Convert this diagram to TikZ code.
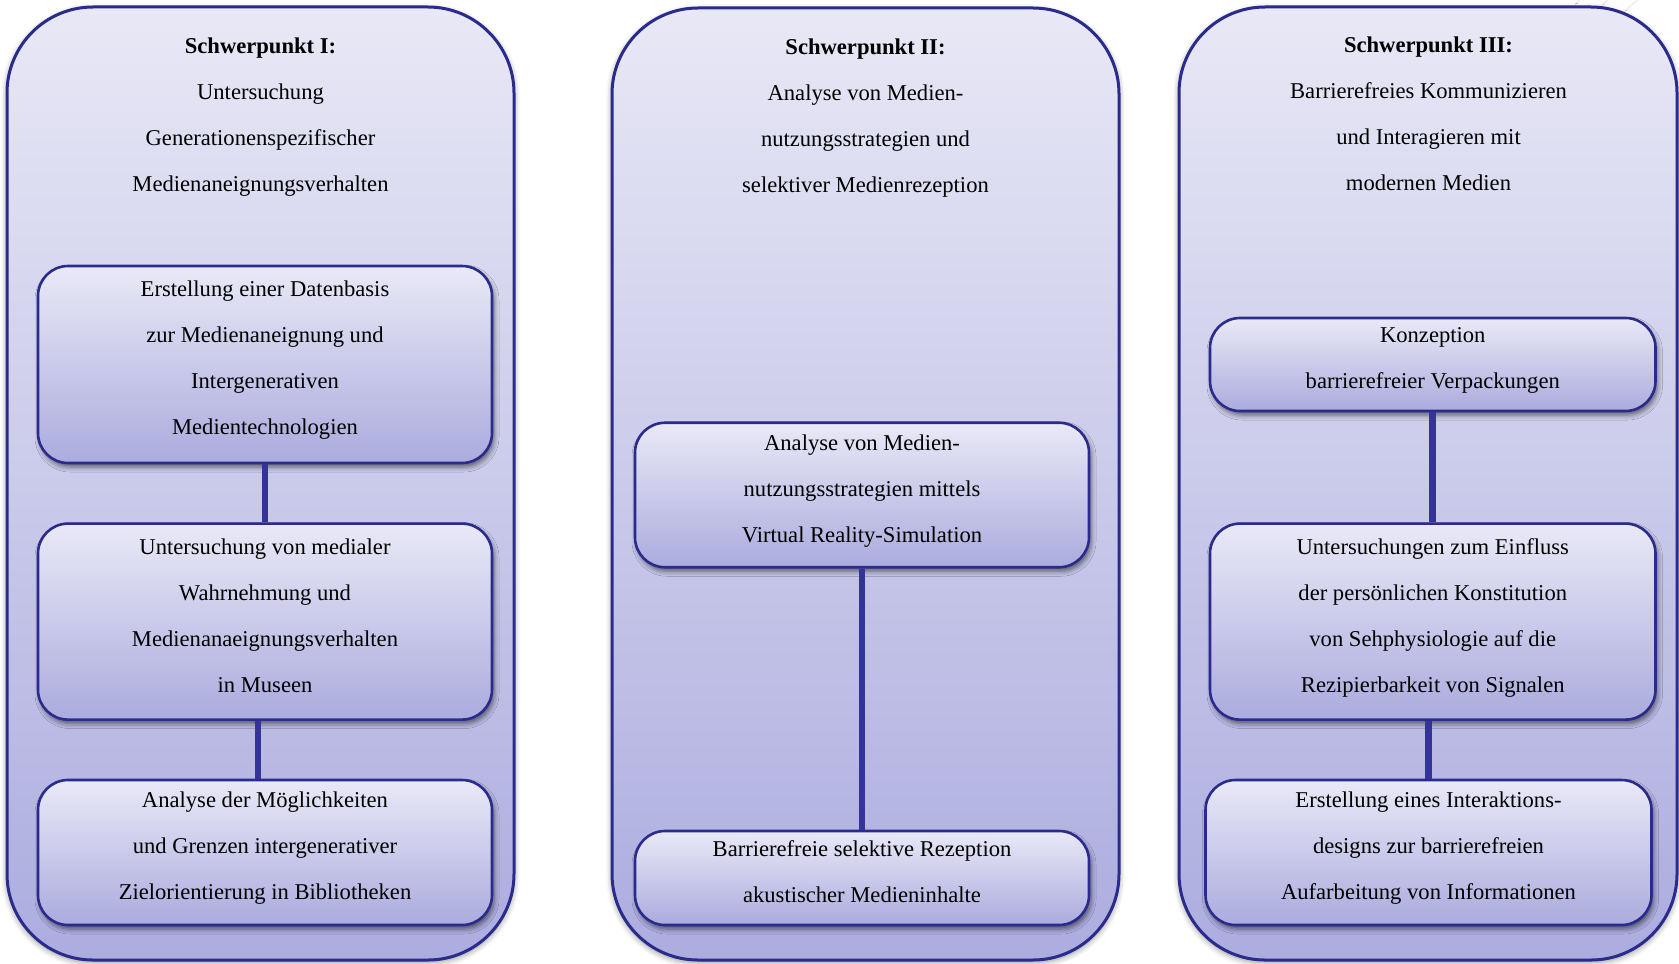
\documentclass[tikz,border=0pt]{standalone}
\usepackage{fontspec}
\setmainfont{Liberation Serif}
\usetikzlibrary{shadows.blur}
\definecolor{panelTop}{HTML}{E8E8F6}
\definecolor{panelBot}{HTML}{ACACDF}
\definecolor{boxTop}{HTML}{E9E9F7}
\definecolor{boxBot}{HTML}{ABABDE}
\definecolor{navy}{HTML}{2B2B8E}
\definecolor{connBlue}{HTML}{33339A}
\definecolor{swirlGray}{HTML}{EEEEF3}
\tikzset{
  panel/.style={rectangle, draw=navy, line width=1.5pt, rounded corners=43pt,
    top color=panelTop, bottom color=panelBot, inner sep=0pt,
    blur shadow={shadow xshift=0pt, shadow yshift=-1.2pt, shadow blur radius=3pt, shadow opacity=45}},
  stepbox/.style={rectangle, draw=navy, line width=1.3pt, rounded corners=15pt,
    top color=boxTop, bottom color=boxBot, inner sep=0pt,
    blur shadow={shadow xshift=1pt, shadow yshift=-2pt, shadow blur radius=2.5pt, shadow opacity=55}},
  txt/.style={align=center, inner sep=0pt, font=\fontsize{11.3}{23}\selectfont},
  conn/.style={draw=connBlue, line width=3.3pt},
  swirl/.style={draw=swirlGray, line width=0.8pt}
}
\begin{document}
\begin{tikzpicture}[x=0.5pt,y=-0.5pt]
\useasboundingbox (0,0) rectangle (1679,963);
% faint background swirls
\begin{scope}
\clip (1450,0) rectangle (1679,80);
\draw[swirl] (1830,230) circle (300);
\draw[swirl] (1830,230) circle (320);
\draw[swirl] (1830,230) circle (340);
\end{scope}
% panels
\node[panel, minimum width=253.5pt, minimum height=476.5pt] (p1) at (260.5,483.5) {};
\node[panel, minimum width=253.5pt, minimum height=476pt] (p2) at (865.5,484) {};
\node[panel, minimum width=249pt, minimum height=476.5pt] (p3) at (1428,483.5) {};
% inner boxes
\node[stepbox, minimum width=227pt, minimum height=98.5pt] (b11) at (265,364.5) {};
\node[stepbox, minimum width=227pt, minimum height=98pt] (b12) at (265,621.6) {};
\node[stepbox, minimum width=227pt, minimum height=72.5pt] (b13) at (265,852.5) {};
\node[stepbox, minimum width=227pt, minimum height=72.25pt] (b21) at (862,495) {};
\node[stepbox, minimum width=227pt, minimum height=47pt] (b22) at (862,878) {};
\node[stepbox, minimum width=222.75pt, minimum height=46.5pt] (b31) at (1432.75,364.5) {};
\node[stepbox, minimum width=222.75pt, minimum height=98pt] (b32) at (1432.75,621.6) {};
\node[stepbox, minimum width=223pt, minimum height=72.5pt] (b33) at (1428.5,852.5) {};
% connectors
\draw[conn] (b11.south) -- (b12.north);
\draw[conn] ([xshift=-3.5pt]b12.south) -- ([xshift=-3.5pt]b13.north);
\draw[conn] (b21.south) -- (b22.north);
\draw[conn] (b31.south) -- (b32.north);
\draw[conn] (b32.south -| b33.north) -- (b33.north);
% titles
\node[txt] (h1) at (260.5,117.5) {\textbf{Schwerpunkt I:}\\Untersuchung\\Generationenspezifischer\\Medienaneignungsverhalten};
\node[txt] (h2) at (865.5,118.5) {\textbf{Schwerpunkt II:}\\Analyse von Medien-\\nutzungsstrategien und\\selektiver Medienrezeption};
\node[txt] (h3) at (1428.5,116) {\textbf{Schwerpunkt III:}\\Barrierefreies Kommunizieren\\und Interagieren mit\\modernen Medien\vphantom{g}};
% box texts
\node[txt, yshift=2pt] (t11) at (b11.center) {Erstellung einer Datenbasis\\zur Medienaneignung und\\Intergenerativen\\Medientechnologien};
\node[txt, yshift=2pt] (t12) at (b12.center) {Untersuchung von medialer\\Wahrnehmung und\\Medienanaeignungsverhalten\\in Museen\vphantom{g}};
\node[txt, yshift=2pt] (t13) at (b13.center) {Analyse der Möglichkeiten\\und Grenzen intergenerativer\\Zielorientierung in Bibliotheken};
\node[txt, yshift=2pt] (t21) at (b21.center) {Analyse von Medien-\\nutzungsstrategien mittels\\Virtual Reality-Simulation};
\node[txt, yshift=2pt] (t22) at (b22.center) {Barrierefreie selektive Rezeption\\akustischer Medieninhalte\vphantom{g}};
\node[txt, yshift=2pt] (t31) at (b31.center) {Konzeption\\barrierefreier Verpackungen};
\node[txt, yshift=2pt] (t32) at (b32.center) {Untersuchungen zum Einfluss\\der persönlichen Konstitution\\von Sehphysiologie auf die\\Rezipierbarkeit von Signalen};
\node[txt, yshift=2pt] (t33) at (b33.center) {Erstellung eines Interaktions-\\designs zur barrierefreien\\Aufarbeitung von Informationen};
\end{tikzpicture}
\end{document}
